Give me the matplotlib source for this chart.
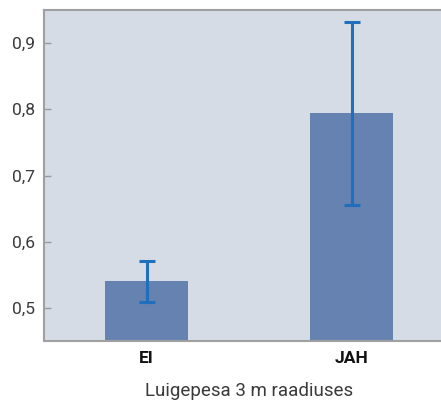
import matplotlib
matplotlib.use('Agg')
import matplotlib.pyplot as plt

# andmed
categories = ['EI', 'JAH']
values = [0.540, 0.794]
errors = [0.031, 0.138]
yticks = [0.5, 0.6, 0.7, 0.8, 0.9]
ytick_labels = ['0,5', '0,6', '0,7', '0,8', '0,9']
xlabel = 'Luigepesa 3 m raadiuses'

plt.rcParams['font.family'] = ['Roboto', 'DejaVu Sans']

fig = plt.figure(figsize=(4.41, 4.05), dpi=100)
ax = fig.add_axes([44 / 441, 64 / 405, 410 / 441, 331 / 405])
ax.set_facecolor('#d5dce6')

x = range(len(categories))
ax.bar(x, values, width=0.405, color='#6582b0', zorder=2)
ax.errorbar(x, values, yerr=errors, fmt='none', ecolor='#1f6fbd',
            elinewidth=2.2, capsize=6, capthick=2.2, zorder=3)

ax.set_xlim(-0.5, 1.5)
ax.set_ylim(0.45, 0.95)
ax.set_yticks(yticks)
ax.set_yticklabels(ytick_labels, fontsize=12.5, color='#3a3a3a')
ax.tick_params(axis='y', direction='in', length=5, width=1, color='#999999', pad=6.5)
ax.set_xticks(list(x))
ax.set_xticklabels(categories, fontsize=12.5, fontweight='bold', color='#111111')
ax.tick_params(axis='x', length=0, pad=7)
ax.set_xlabel(xlabel, fontsize=13.5, color='#3a3a3a', labelpad=12)

for side in ['left', 'top', 'bottom']:
    ax.spines[side].set_color('#a0a0a0')
    ax.spines[side].set_linewidth(1.5)
ax.spines['right'].set_visible(False)

fig.savefig('out.png', dpi=100)
